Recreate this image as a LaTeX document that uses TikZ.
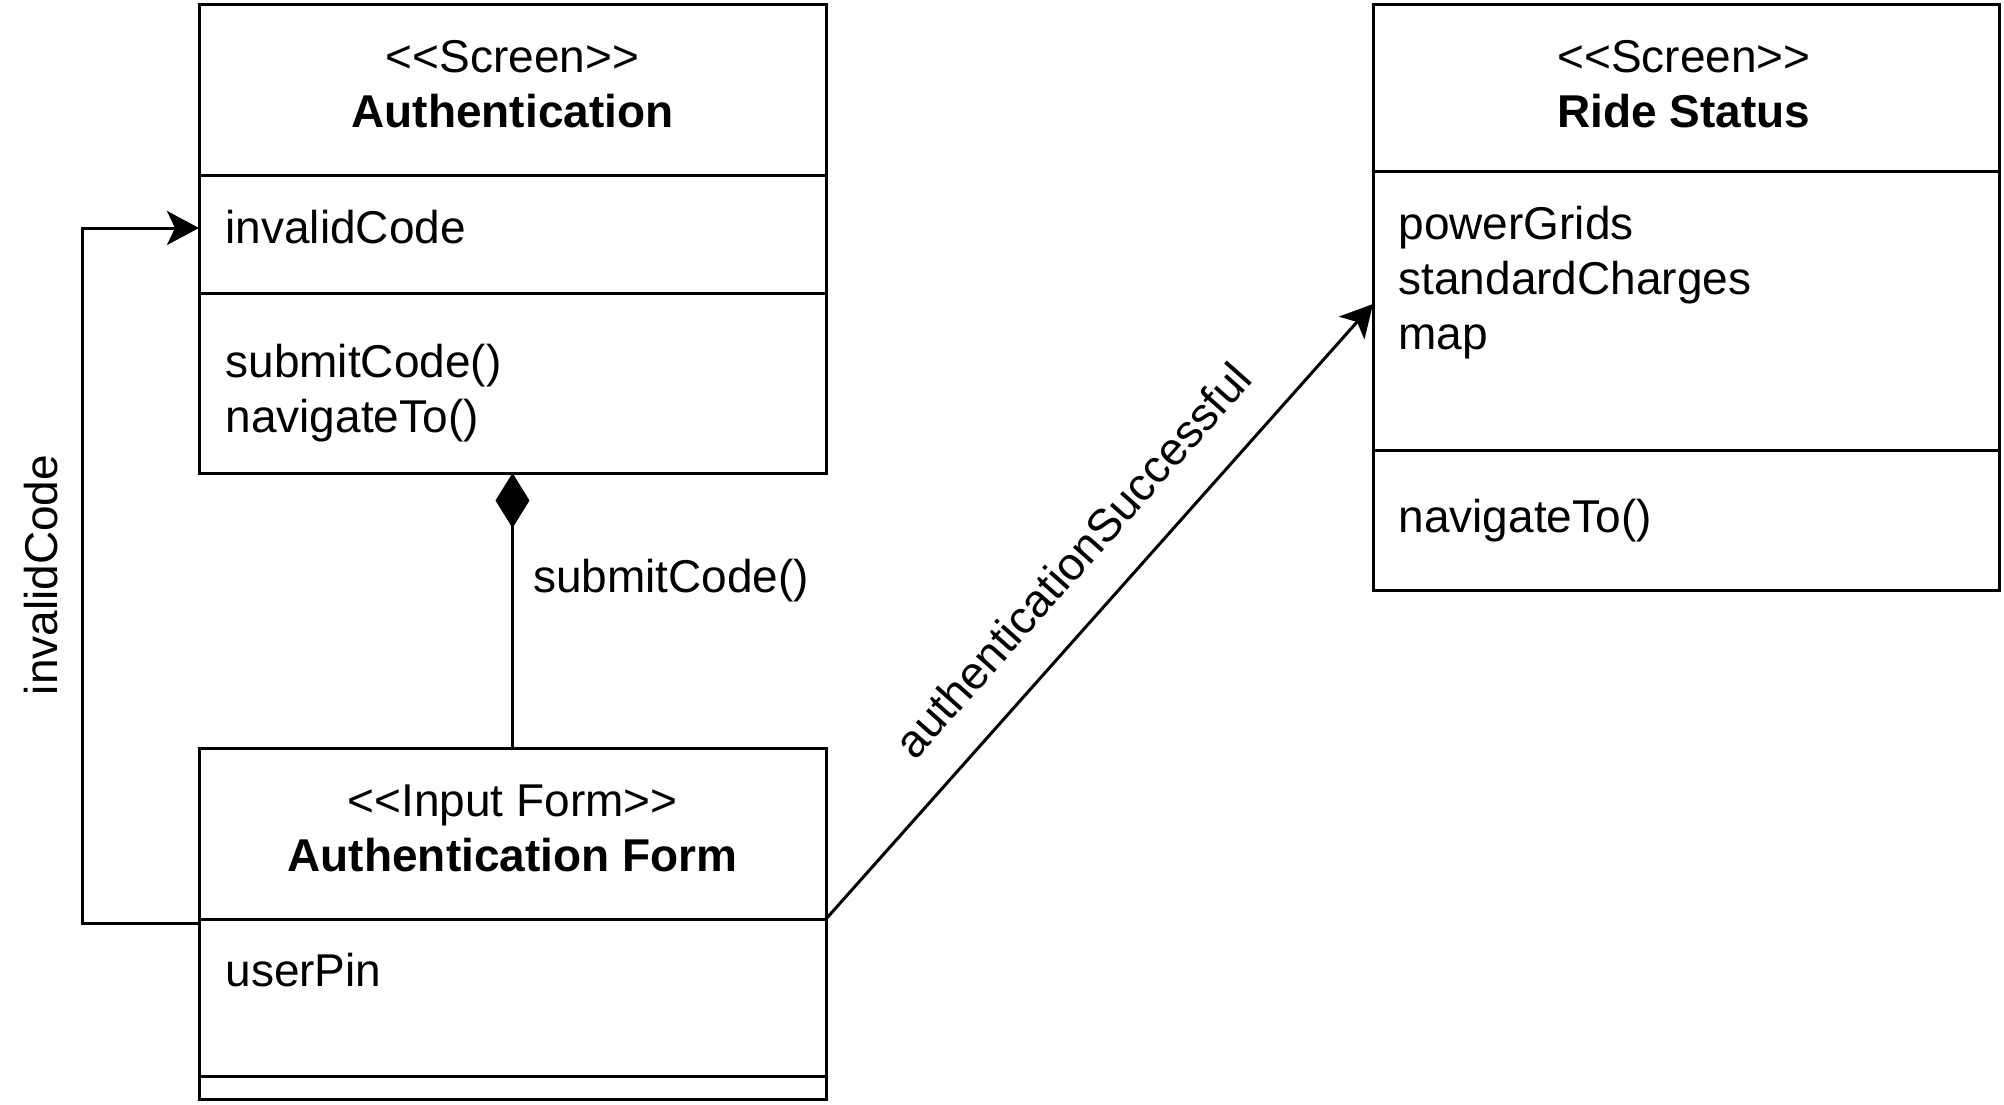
\documentclass[tikz,border=0pt]{standalone}
\usepackage{fontspec}
\setmainfont{Liberation Sans}
\usetikzlibrary{arrows.meta,positioning}
\newcommand{\stereotype}[1]{<\kern0pt<#1>\kern0pt>}
\begin{document}
\begin{tikzpicture}[x=0.5pt, y=-0.5pt, line width=1.5pt, font=\fontsize{23}{27.5}\selectfont]
	\tikzstyle{part}=[rectangle, draw=black, anchor=north west, inner sep=0pt, outer sep=0pt, minimum width=313.5pt]
	\tikzstyle{txt}=[inner sep=0pt, align=left, anchor=west]
	\tikzstyle{title}=[inner sep=0pt, align=center]
	\tikzstyle{link}=[-{Stealth[length=16pt, width=17pt, inset=4pt]}]
	\useasboundingbox (0,0) rectangle (2004,1104);
	
	% Authentication
	\node[part, minimum height=85.5pt] (authhead) at (199,4) {};
	\node[part, minimum height=59pt] (authattr) at (199,175) {};
	\node[part, minimum height=90pt] (authops) at (199,293) {};
	\node[title] (authname) at (512.5,84) {\stereotype{Screen}\\\textbf{Authentication}};
	\node[txt] (authattrs) at (224,227) {invalidCode};
	\node[txt] (authopers) at (224,393) {submitCode()\\navigateTo()};
	
	% Authentication Form
	\node[part, minimum height=85.5pt] (formhead) at (199,748) {};
	\node[part, minimum height=78.5pt] (formattr) at (199,919) {};
	\node[part, minimum height=11.5pt] (formops) at (199,1076) {};
	\node[title] (formname) at (512.5,828) {\stereotype{Input Form}\\\textbf{Authentication Form}};
	\node[txt] (formattrs) at (224,970) {userPin};
	
	% Ride Status
	\node[part, minimum width=313pt, minimum height=83.5pt] (ridehead) at (1373,4) {};
	\node[part, minimum width=313pt, minimum height=139.5pt] (rideattr) at (1373,171) {};
	\node[part, minimum width=313pt, minimum height=70pt] (rideops) at (1373,450) {};
	\node[title] (ridename) at (1684,84) {\stereotype{Screen}\\\textbf{Ride Status}};
	\node[txt] (rideattrs) at (1397,283) {powerGrids\\standardCharges\\map};
	\node[txt] (rideopers) at (1397,521) {navigateTo()};
	
	\draw [{Diamond[length=27.5pt, width=17pt]}-] (authops.south) -- (formhead.north) node[txt, pos=.39, right=9.5pt] (complbl) {submitCode()};
	\draw [link] ([yshift=-2pt]formattr.north west) -- ++(-117,0) |- ([yshift=3pt]authattr.west);
	\node[rotate=90, inner sep=0pt] (looplbl) at (41,575) {invalidCode};
	\draw [link] (formhead.south east) -- ([yshift=3.25pt]rideattr.west) node[pos=.525, sloped, above=18pt, inner sep=0pt] (succlbl) {authenticationSuccessful};
\end{tikzpicture}
\end{document}
